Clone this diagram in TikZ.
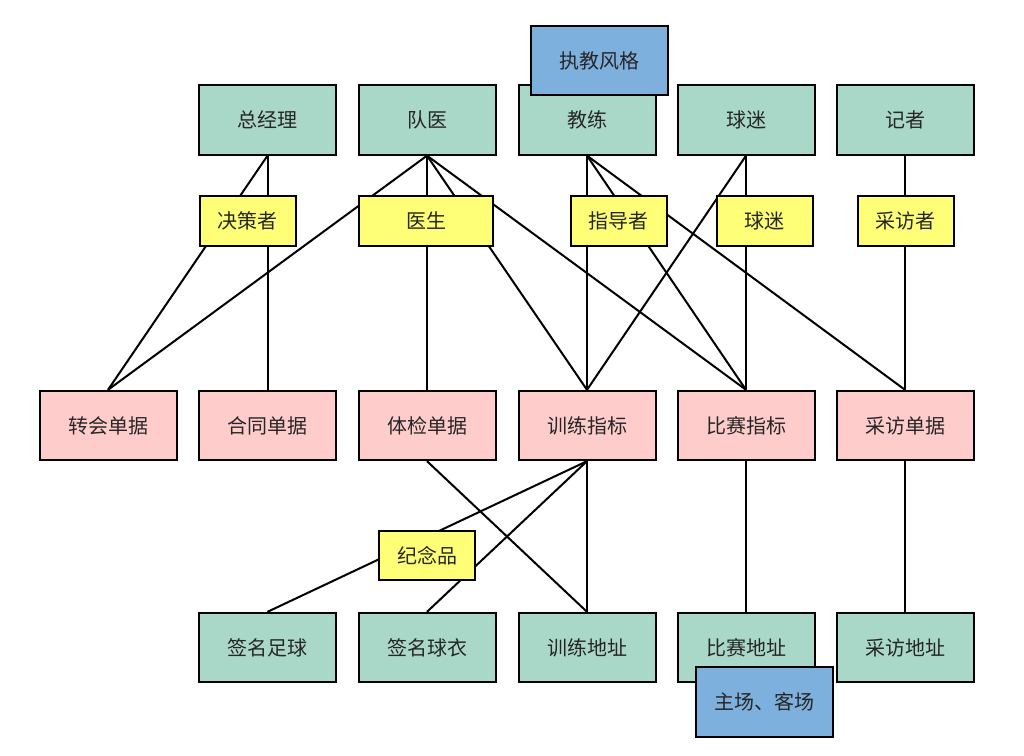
\documentclass[tikz,border=0pt]{standalone}
\usepackage{fontspec}
\setmainfont{Noto Sans CJK SC}
\definecolor{entitygreen}{RGB}{170,216,200}
\definecolor{recordpink}{RGB}{255,204,204}
\definecolor{roleyellow}{RGB}{255,255,119}
\definecolor{noteblue}{RGB}{126,176,222}

\begin{document}
\begin{tikzpicture}[x=0.75pt, y=-0.75pt,
    every node/.style={font=\fontsize{15}{18}\selectfont, text=black!85},
    entity/.style={rectangle, draw=black, fill=entitygreen, minimum width=102.75pt, minimum height=52pt, line width=1.5pt},
    record/.style={rectangle, draw=black, fill=recordpink, minimum width=102.75pt, minimum height=52pt, line width=1.5pt},
    role/.style={rectangle, draw=black, fill=roleyellow, minimum width=72pt, minimum height=37pt, line width=1.5pt},
    note/.style={rectangle, draw=black, fill=noteblue, minimum width=102.75pt, minimum height=52pt, line width=1.5pt},
    link/.style={line width=1.5pt}
]
\useasboundingbox (0,0) rectangle (1024,756);

% Top row (people)
\node[entity] (gm) at (267.5,120) {总经理};
\node[entity] (doctor) at (427,120) {队医};
\node[entity] (coach) at (587,120) {教练};
\node[entity] (fan) at (746,120) {球迷};
\node[entity] (reporter) at (905,120) {记者};

% Middle row (records)
\node[record] (transfer) at (108,425.5) {转会单据};
\node[record] (contract) at (267.5,425.5) {合同单据};
\node[record] (medical) at (427,425.5) {体检单据};
\node[record] (training) at (587,425.5) {训练指标};
\node[record] (match) at (746,425.5) {比赛指标};
\node[record] (interview) at (905,425.5) {采访单据};

% Bottom row
\node[entity] (ball) at (267.5,647.5) {签名足球};
\node[entity] (jersey) at (427,647.5) {签名球衣};
\node[entity] (trainaddr) at (587,647.5) {训练地址};
\node[entity] (matchaddr) at (746,647.5) {比赛地址};
\node[entity] (interaddr) at (905,647.5) {采访地址};

% Links top -> middle
\draw[link] (gm.south) -- (transfer.north);
\draw[link] (gm.south) -- (contract.north);
\draw[link] (doctor.south) -- (transfer.north);
\draw[link] (doctor.south) -- (medical.north);
\draw[link] (doctor.south) -- (training.north);
\draw[link] (doctor.south) -- (match.north);
\draw[link] (coach.south) -- (training.north);
\draw[link] (coach.south) -- (match.north);
\draw[link] (coach.south) -- (interview.north);
\draw[link] (fan.south) -- (training.north);
\draw[link] (fan.south) -- (match.north);
\draw[link] (reporter.south) -- (interview.north);

% Links middle -> bottom
\draw[link] (medical.south) -- (trainaddr.north);
\draw[link] (training.south) -- (ball.north);
\draw[link] (training.south) -- (jersey.north);
\draw[link] (training.south) -- (trainaddr.north);
\draw[link] (match.south) -- (matchaddr.north);
\draw[link] (interview.south) -- (interaddr.north);

% Role labels (on top of the links)
\node[role] (decider) at (247.5,221) {决策者};
\node[role, minimum width=100.5pt] (physician) at (426,221) {医生};
\node[role] (mentor) at (618.5,221) {指导者};
\node[role] (supporter) at (764.5,221) {球迷};
\node[role] (asker) at (905.5,221) {采访者};
\node[role] (souvenir) at (427,555.5) {纪念品};

% Notes
\node[note] (style) at (599.5,60.5) {执教风格};
\node[note] (venue) at (764.5,702) {主场、客场};

\end{tikzpicture}
\end{document}
